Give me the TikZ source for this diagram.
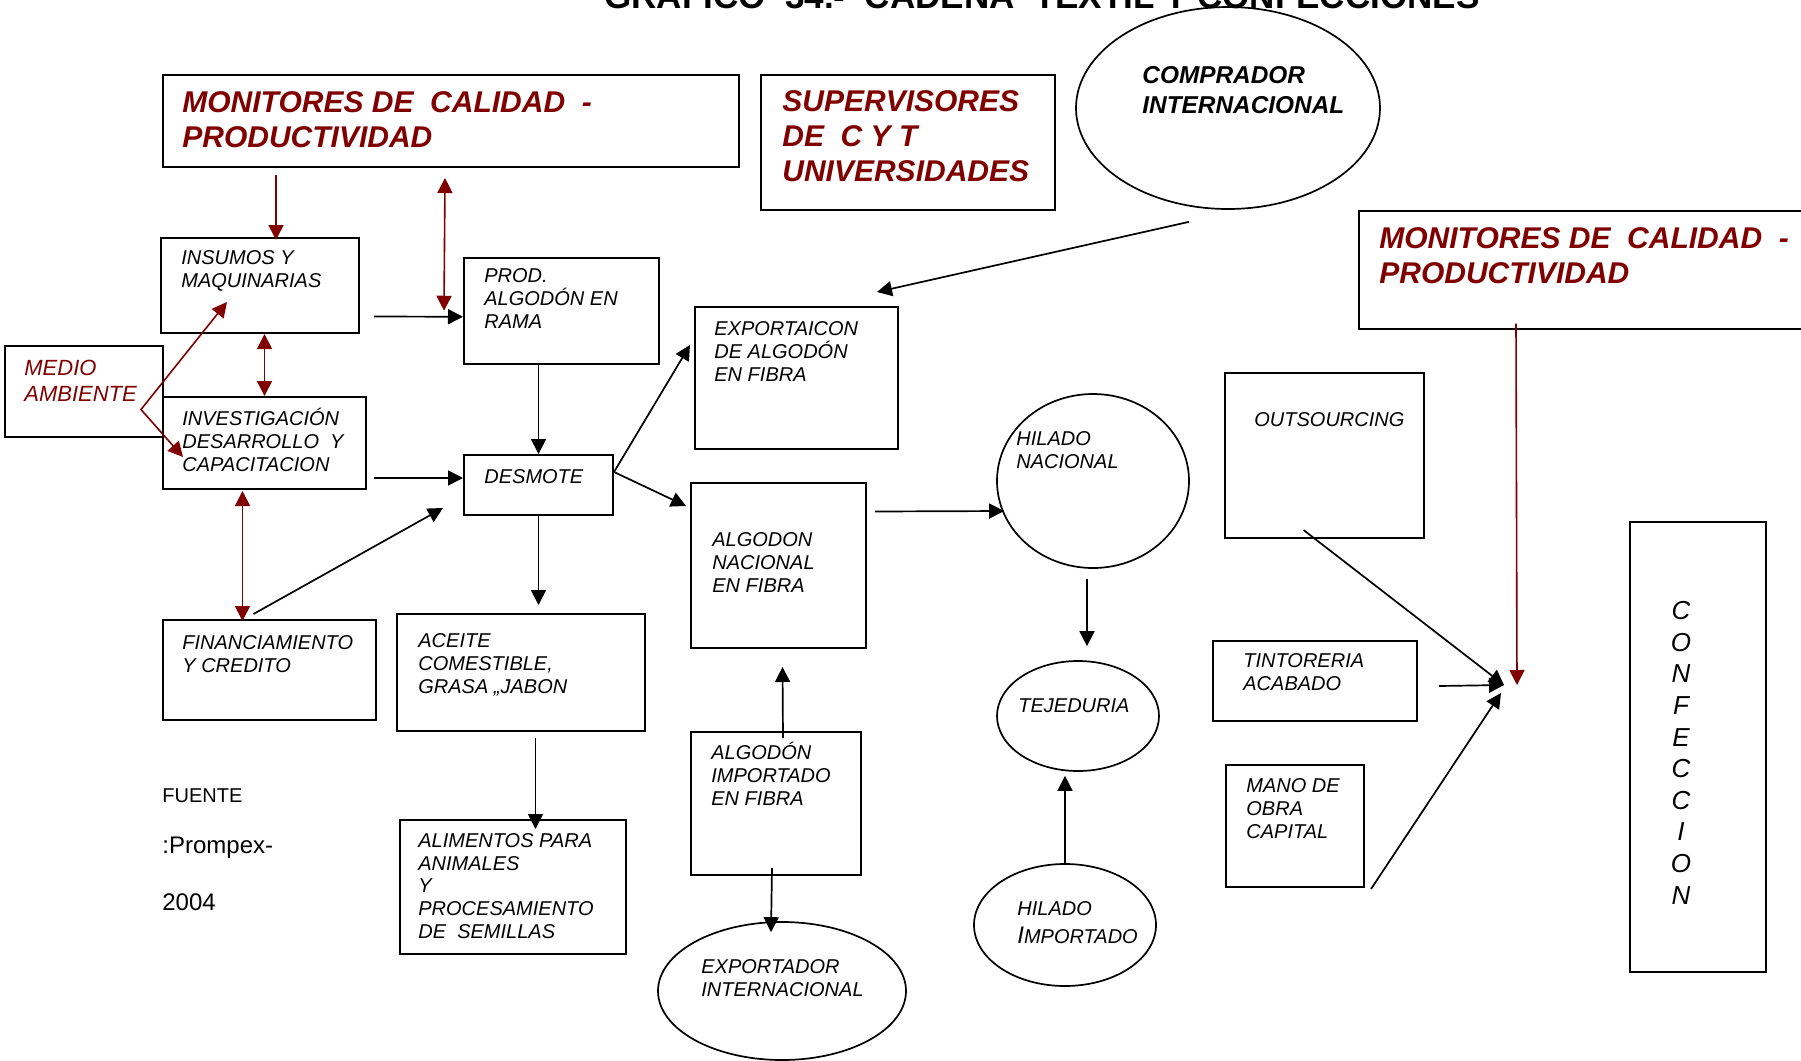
\documentclass[tikz,border=0pt]{standalone}
\usepackage{fontspec}
\setmainfont{Liberation Sans}
\usetikzlibrary{arrows.meta,shapes.geometric,calc}
\definecolor{darkred}{RGB}{128,0,0}

\begin{document}
\begin{tikzpicture}[
        x=0.5pt, y=-0.5pt,
        box/.style={draw, line width=1pt, rectangle, anchor=north west, inner sep=0pt},
        ell/.style={draw, line width=0.85pt, ellipse, inner sep=0pt},
        txt/.style={anchor=base west, align=left, inner sep=0pt, font=\fontsize{10}{11.3}\selectfont\itshape},
        hdr/.style={anchor=base west, align=left, inner sep=0pt, text=darkred, font=\fontsize{15}{17.5}\selectfont\bfseries\itshape},
        arr/.style={->, line width=0.85pt},
        redarr/.style={arr, draw=darkred, line width=0.8pt},
        >={Triangle[length=7.5pt,width=7.5pt]}
    ]
        \path[use as bounding box, clip] (0,0) rectangle (1801,1061);

        % Title (cut at the top edge, as in the source page)
        \node[anchor=base west, inner sep=0pt, font=\fontsize{17.5}{20}\selectfont\bfseries] (title) at (604,8) {GRAFICO\ \ 34.-\ \ CADENA\ \ TEXTIL Y CONFECCIONES};

        % Nodes
        \node[box, minimum width=288pt, minimum height=46pt] (mon1) at (162,74) {};
        \node[box, minimum width=147pt, minimum height=67.5pt] (sup) at (760,74) {};
        \node[box, minimum width=226pt, minimum height=58.75pt] (mon2) at (1358,210) {};
        \node[box, minimum width=99pt, minimum height=47.5pt] (ins) at (160,237) {};
        \node[box, minimum width=97.25pt, minimum height=52.75pt] (prod) at (463,257) {};
        \node[box, minimum width=79pt, minimum height=45.5pt] (medio) at (4,345) {};
        \node[box, minimum width=101.5pt, minimum height=46pt] (inv) at (162,396) {};
        \node[box, minimum width=74.5pt, minimum height=30pt] (desm) at (463,454) {};
        \node[box, minimum width=101.5pt, minimum height=71pt] (expo) at (694,306) {};
        \node[box, minimum width=87.5pt, minimum height=82.5pt] (alg) at (690,482) {};
        \node[box, minimum width=85pt, minimum height=71.5pt] (imp) at (690,731) {};
        \node[box, minimum width=106.5pt, minimum height=50pt] (fin) at (162,619) {};
        \node[box, minimum width=124pt, minimum height=58.5pt] (ace) at (396,613) {};
        \node[box, minimum width=113pt, minimum height=67pt] (ali) at (399,819) {};
        \node[box, minimum width=99.5pt, minimum height=82.5pt] (outs) at (1224,372) {};
        \node[box, minimum width=102pt, minimum height=40pt] (tint) at (1212,640) {};
        \node[box, minimum width=69pt, minimum height=61pt] (mano) at (1225,764) {};
        \node[box, minimum width=68pt, minimum height=225pt] (conf) at (1629,521) {};

        \node[ell, minimum width=152pt, minimum height=101pt] (comp) at (1228,108) {};
        \node[ell, minimum width=124pt, minimum height=69pt] (expint) at (782,991) {};
        \node[ell, minimum width=96pt, minimum height=87pt] (hnac) at (1093,481) {};
        \node[ell, minimum width=81pt, minimum height=55pt] (tej) at (1078,716) {};
        \node[ell, minimum width=91pt, minimum height=61pt] (himp) at (1065,925) {};

        % Texts (placed by the baseline of their last line)
        \node[hdr] (mon1-t) at (182,147) {MONITORES DE\ \ CALIDAD\ \ -\\PRODUCTIVIDAD};
        \node[hdr] (sup-t) at (782,181) {SUPERVISORES\\DE\ \ C Y T\\UNIVERSIDADES};
        \node[hdr] (mon2-t) at (1379,283) {MONITORES DE\ \ CALIDAD\ \ -\\PRODUCTIVIDAD};
        \node[txt, font=\fontsize{12.2}{14.7}\selectfont\bfseries\itshape] (comp-t) at (1142,113) {COMPRADOR\\INTERNACIONAL};
        \node[txt, text=darkred, font=\fontsize{11}{12.8}\selectfont\itshape] (medio-t) at (24,401) {MEDIO\\AMBIENTE};
        \node[txt] (ins-t) at (181,287) {INSUMOS Y\\MAQUINARIAS};
        \node[txt] (prod-t) at (484,328) {PROD.\\ALGODÓN EN\\RAMA};
        \node[txt] (inv-t) at (182,471) {INVESTIGACIÓN\\DESARROLLO\ \ Y\\CAPACITACION};
        \node[txt] (desm-t) at (484,483) {DESMOTE};
        \node[txt] (expo-t) at (714,381) {EXPORTAICON\\DE ALGODÓN\\EN FIBRA};
        \node[txt] (alg-t) at (712,592) {ALGODON\\NACIONAL\\EN FIBRA};
        \node[txt] (imp-t) at (711,805) {ALGODÓN\\IMPORTADO\\EN FIBRA};
        \node[txt] (expint-t) at (701,996) {EXPORTADOR\\INTERNACIONAL};
        \node[txt] (fin-t) at (182,672) {FINANCIAMIENTO\\Y CREDITO};
        \node[txt] (ace-t) at (418,693) {ACEITE\\COMESTIBLE,\\GRASA ,,JABON};
        \node[txt] (ali-t) at (418,938) {ALIMENTOS PARA\\ANIMALES\\Y\\PROCESAMIENTO\\DE\ \ SEMILLAS};
        \node[txt] (hnac-t) at (1016,468) {HILADO\\NACIONAL};
        \node[txt] (tej-t) at (1018,712) {TEJEDURIA};
        \node[txt, font=\fontsize{10}{14}\selectfont\itshape] (himp-t) at (1017,943) {HILADO\\{\fontsize{12}{14}\selectfont I}MPORTADO};
        \node[txt] (outs-t) at (1254,426) {OUTSOURCING};
        \node[txt] (tint-t) at (1243,690) {TINTORERIA\\ACABADO};
        \node[txt] (mano-t) at (1246,838) {MANO DE\\OBRA\\CAPITAL};
        \node[txt, anchor=base, align=center, font=\fontsize{13}{15.8}\selectfont\itshape] (conf-t) at (1681,904) {C\\O\\N\\F\\E\\C\\C\\I\\O\\N};
        \node[txt, font=\fontsize{10}{12}\selectfont] (fuente) at (162,802) {FUENTE};
        \node[txt, font=\fontsize{12}{14}\selectfont] (prompex) at (162,853) {:Prompex-};
        \node[txt, font=\fontsize{12}{14}\selectfont] (year) at (162,910) {2004};

        \coordinate (merge) at (1504,685);

        % Arrows
        \draw[redarr] ($(mon1.south)+(-175,7)$) -- ($(ins.north)+(16,3)$);
        \draw[redarr, <->] ($(mon1.south)+(-6,10)$) -- ($(prod.west)+(-19,0)$);
        \draw[redarr, <->] (inv.north |- ins.south) -- (inv.north);
        \draw[redarr, <->] ($(ins.south west)+(67,-32)$) -- ($(medio.east)+(-23,18)$) -- ($(inv.north west)+(21,61)$);
        \draw[redarr, <->] ($(inv.south)+(-22,1)$) -- ($(fin.north)+(-27,2)$);
        \draw[redarr] ($(mon2.south west)+(158,-6)$) -- ($(merge)+(13,0)$);

        \draw[arr] ($(ins.east)+(14,31)$) -- ($(prod.west)+(0,6)$);
        \draw[arr] (prod.south -| desm.north) -- (desm.north);
        \draw[arr] ($(inv.east)+(7,35)$) -- ($(desm.west)+(0,-7)$);
        \draw[arr] ($(fin.north)+(-16,-5)$) -- ($(desm.south west)+(-20,-8)$);
        \draw[arr] ($(desm.east)+(0,-13)$) -- ($(expo.west)+(-4,-33)$);
        \draw[arr] ($(desm.east)+(0,-13)$) -- ($(alg.north west)+(-4,24)$);
        \draw[arr] (desm.south) -- ($(desm.south |- ace.north)+(0,-8)$);
        \draw[arr] ($(ace.south -| desm.south)+(-3,6)$) -- ($(ali.north -| desm.south)+(-3,10)$);
        \draw[arr] ($(comp.south)+(-39,12)$) -- ($(expo.north east)+(-22,-14)$);
        \draw[arr] ($(imp.north)+(7,7)$) -- ($(alg.south)+(4,18)$);
        \draw[arr] ($(imp.south)+(-4,-8)$) -- ($(expint.north)+(-11,11)$);
        \draw[arr] ($(alg.east)+(8,-54)$) -- ($(hnac.west)+(8,30)$);
        \draw[arr] ($(hnac.south)+(-6,10)$) -- ($(tej.north)+(9,-14)$);
        \draw[arr] (himp.north) -- ($(tej.south)+(-13,4)$);
        \draw[arr] ($(outs.south)+(-21,-9)$) -- (merge);
        \draw[arr] ($(tint.east)+(21,5)$) -- (merge);
        \draw[arr] ($(mano.south east)+(6,1)$) -- ($(merge)+(-3,8)$);
\end{tikzpicture}
\end{document}
